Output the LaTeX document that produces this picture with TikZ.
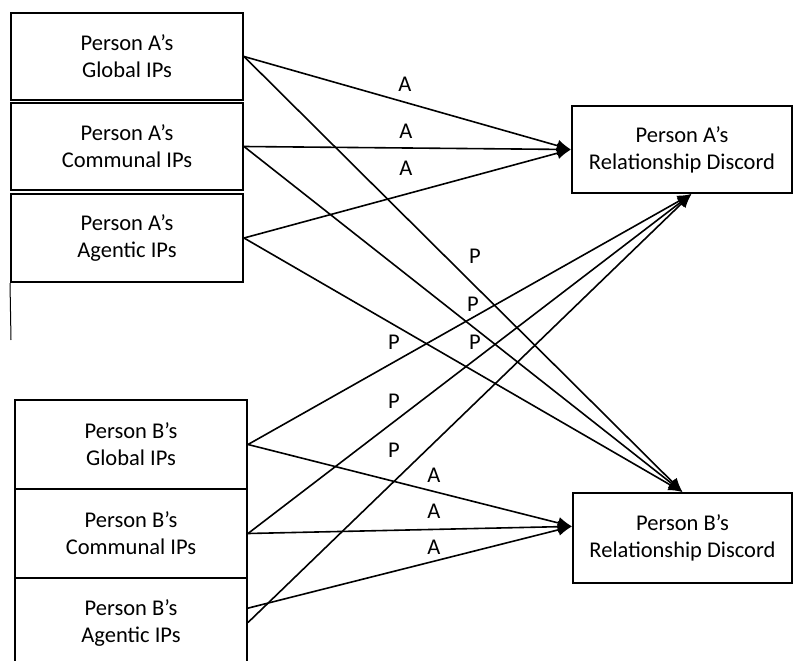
\documentclass[tikz,border=0pt]{standalone}
\usepackage{fontspec}
\setmainfont{Carlito}
\usetikzlibrary{arrows.meta}

\begin{document}
\begin{tikzpicture}[x=1pt,y=-1pt,
	box/.style={draw,line width=2pt,align=center,inner sep=0pt,font=\fontsize{22.5}{27}\selectfont},
	arr/.style={line width=1.6pt,-{Latex[length=14pt,width=12pt]}},
	lab/.style={inner sep=0pt,font=\fontsize{22.5}{27}\selectfont}]
	\useasboundingbox (0,0) rectangle (795,661);
	% predictors of person A
	\node[box,minimum width=232pt,minimum height=87pt] (ag) at (127,56.5) {Person A’s\\Global IPs};
	\node[box,minimum width=232pt,minimum height=87pt] (ac) at (127,146.5) {Person A’s\\Communal IPs};
	\node[box,minimum width=232pt,minimum height=88pt] (aa) at (127,238) {Person A’s\\Agentic IPs};
	\coordinate (stub) at (11,340);
	\draw [line width=1pt] (aa.south west) -- (stub);
	% predictors of person B
	\node[box,minimum width=232pt,minimum height=89pt] (bg) at (131,444.5) {Person B’s\\Global IPs};
	\node[box,minimum width=232pt,minimum height=89pt] (bc) at (131,533.5) {Person B’s\\Communal IPs};
	\node[box,minimum width=232pt,minimum height=89pt] (ba) at (131,622.5) {Person B’s\\Agentic IPs};
	% outcomes
	\node[box,minimum width=220pt,minimum height=87pt] (ad) at (682,149.5) {Person A’s\\Relationship Discord};
	\node[box,minimum width=219pt,minimum height=90pt] (bd) at (682.5,538) {Person B’s\\Relationship Discord};
	% actor paths
	\draw [arr] (ag.east) -- (ad.west);
	\draw [arr] (ac.east) -- (ad.west);
	\draw [arr] (aa.east) -- (ad.west);
	\draw [arr] (bg.east) -- (bd.174);
	\draw [arr] (bc.east) -- (bd.174);
	\draw [arr] (ba.7) -- (bd.174);
	% partner paths
	\draw [arr] (ag.east) -- (bd.north);
	\draw [arr] (ac.east) -- (bd.north);
	\draw [arr] (aa.east) -- (bd.north);
	\draw [arr] (bg.east) -- (ad.-78);
	\draw [arr] (bc.east) -- (ad.-78);
	\draw [arr] (ba.east) -- (ad.-78);
	% labels
	\node[lab] (a1) at (405,84) {A};
	\node[lab] (a2) at (406,131) {A};
	\node[lab] (a3) at (406,168) {A};
	\node[lab] (p1) at (475,256) {P};
	\node[lab] (p2) at (473,304) {P};
	\node[lab] (p3) at (475,342) {P};
	\node[lab] (p4) at (394,342) {P};
	\node[lab] (p5) at (394,401) {P};
	\node[lab] (p6) at (394,450) {P};
	\node[lab] (a4) at (434,475) {A};
	\node[lab] (a5) at (434,511) {A};
	\node[lab] (a6) at (434,547) {A};
\end{tikzpicture}
\end{document}
